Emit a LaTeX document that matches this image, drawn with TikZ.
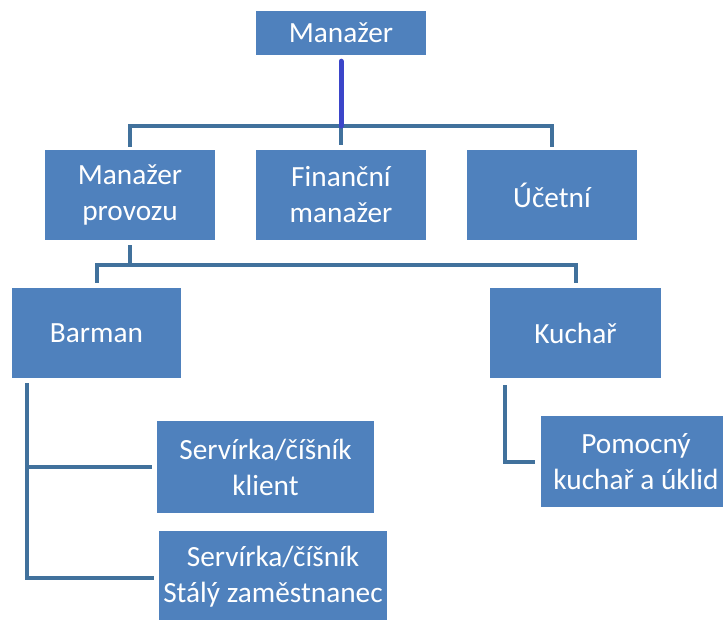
\documentclass[tikz,border=0pt]{standalone}
\usepackage{fontspec}
\setmainfont{Carlito}
\usetikzlibrary{calc}
\definecolor{boxblue}{HTML}{4F81BD}
\definecolor{linec}{HTML}{41719C}
\definecolor{topline}{HTML}{3B45C9}
\begin{document}
\begin{tikzpicture}[x=1pt,y=-1pt,
  box/.style={fill=boxblue, text=white, font=\fontsize{29.3}{36}\selectfont, align=center, inner sep=0pt},
  conn/.style={draw=linec, line width=4pt},
  topconn/.style={draw=topline, line width=5pt, line cap=round}]
\useasboundingbox (0,0) rectangle (723,619);
\fill[white] (0,0) rectangle (723,619);
\node[box, minimum width=170pt, minimum height=44pt] (top) at (341,33) {Manažer};
\node[box, minimum width=170pt, minimum height=90pt] (mp) at (130,195) {Manažer\\provozu};
\node[box, minimum width=170pt, minimum height=90pt] (fm) at (341,195) {Finanční\\manažer};
\node[box, minimum width=170pt, minimum height=90pt] (uc) at (552,195) {Účetní};
\node[box, minimum width=169pt, minimum height=90pt] (bar) at (96.5,333) {Barman};
\node[box, minimum width=171pt, minimum height=90pt] (kuch) at (575.5,333) {Kuchař};
\node[box, minimum width=217pt, minimum height=92pt] (sk) at (265.5,467) {Servírka/číšník\\klient};
\node[box, minimum width=228pt, minimum height=92pt] (ss) at (273,577) {Servírka/číšník\\Stálý zaměstnanec};
\node[box, minimum width=190pt, minimum height=91pt] (pk) at (636,461.5) {Pomocný\\kuchař a úklid};
% level 1 -> 2
\coordinate (h1) at (341,126);
\draw[conn] ($(mp.north)+(0,-3)$) |- (h1) -| ($(uc.north)+(0,-3)$);
\draw[conn] (h1) -- ($(fm.north)+(0,-5)$);
\draw[topconn] ($(top.south)+(0,6)$) -- (h1);
% level 2 -> 3
\coordinate (h2) at (130,265);
\draw[conn] ($(mp.south)+(0,5)$) -- (h2);
\draw[conn] ($(bar.north)+(0,-5)$) |- (h2) -| ($(kuch.north)+(0,-5)$);
% Barman branch
\coordinate (v1) at ($(bar.south west)+(15,5)$);
\draw[conn] (v1) |- ($(sk.west)+(-5,0)$);
\draw[conn] (v1) |- ($(ss.west)+(-5,1)$);
% Kuchar branch
\coordinate (v2) at ($(kuch.south west)+(15,7)$);
\draw[conn] (v2) |- ($(pk.west)+(-6,0)$);
\end{tikzpicture}
\end{document}
